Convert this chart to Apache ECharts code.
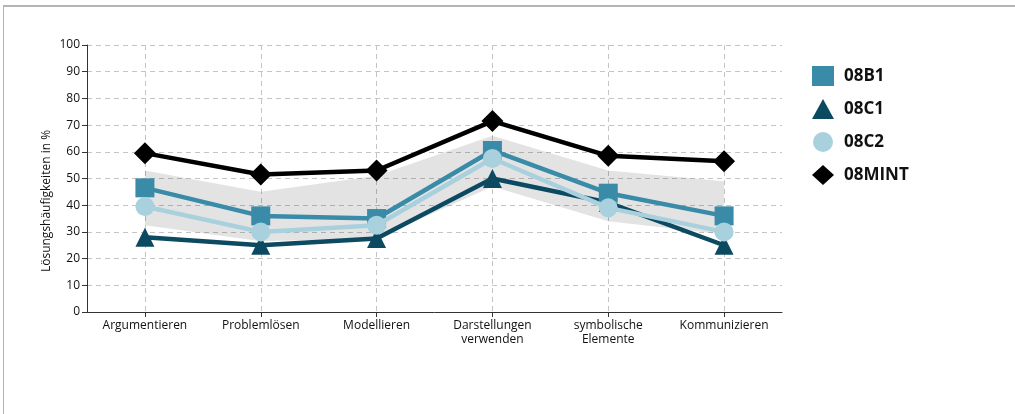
<!DOCTYPE html>
<html>
<head>
<meta charset="utf-8">
<script src="https://cdn.jsdelivr.net/npm/echarts@6/dist/echarts.min.js"></script>
<style>
html,body{margin:0;padding:0;background:#fff;}
#frame{position:absolute;left:3px;top:5px;width:1012px;height:409px;border-top:2px solid #b4b4b4;border-left:1px solid #b4b4b4;box-sizing:border-box;}
#chart{position:absolute;left:0;top:0;width:1015px;height:414px;}
</style>
</head>
<body>
<div id="frame"></div>
<div id="chart"></div>
<script>
const categories = ['Argumentieren','Problemlösen','Modellieren','Darstellungen\nverwenden','symbolische\nElemente','Kommunizieren'];
const yTicks = [0,10,20,30,40,50,60,70,80,90,100];
const yTitle = 'Lösungshäufigkeiten in %';
const seriesNames = ['08B1','08C1','08C2','08MINT'];
const b1 = [46.5, 36, 35, 60.5, 44.5, 36];
const c1 = [28, 25, 27.5, 50, 41, 25];
const c2 = [39.5, 30, 32.5, 57.5, 39, 30];
const mint = [59.5, 51.5, 53, 71.5, 58.5, 56.5];
const bandLow = [32.5, 26.5, 27.5, 47, 34, 29];
const bandHigh = [53, 45, 51, 66, 53, 49];

const colors = {'08B1':'#3a8ba7','08C1':'#0c4a61','08C2':'#a9d0dd','08MINT':'#000000'};
const symbols = {'08B1':'rect','08C1':'triangle','08C2':'circle','08MINT':'diamond'};
const sizes = {'08B1':19,'08C1':19,'08C2':19,'08MINT':22};
const dataMap = {'08B1':b1,'08C1':c1,'08C2':c2,'08MINT':mint};
const drawOrder = ['08C1','08B1','08C2','08MINT'];

const chart = echarts.init(document.getElementById('chart'), null, {renderer:'canvas'});
const font = 'Open Sans, Liberation Sans, sans-serif';

const bandDiff = bandHigh.map((h,i)=>h-bandLow[i]);

const series = [
  {name:'bandBase', type:'line', data:bandLow, stack:'band', symbol:'none', lineStyle:{opacity:0}, silent:true, z:1},
  {name:'band', type:'line', data:bandDiff, stack:'band', symbol:'none', lineStyle:{opacity:0}, areaStyle:{color:'rgba(0,0,0,0.11)', opacity:1}, silent:true, z:1}
];
drawOrder.forEach((n,i)=>{
  series.push({
    name:n, type:'line', data:dataMap[n], symbol:symbols[n], symbolSize:sizes[n],
    lineStyle:{color:colors[n], width:4.5}, itemStyle:{color:colors[n]},
    z:2+i, animation:false
  });
});

chart.setOption({
  animation:false,
  grid:{left:87, right:233, top:45, bottom:102, containLabel:false},
  legend:{
    orient:'vertical', left:807, top:61, itemWidth:22, itemHeight:20, itemGap:13,
    data: seriesNames.map(n=>({name:n, icon:symbols[n], itemStyle:{color:colors[n]}})),
    textStyle:{fontFamily:font, fontSize:17, fontWeight:'bold', color:'#111', padding:[0,0,0,5]},
    selectedMode:false
  },
  graphic:[{
    type:'text', x:47, y:201, rotation:Math.PI/2,
    style:{text:yTitle, fontFamily:font, fontSize:12, fill:'#111', align:'center', verticalAlign:'middle'}
  }],
  xAxis:{
    type:'category', data:categories, boundaryGap:true,
    axisLine:{lineStyle:{color:'#333', width:1}},
    axisTick:{show:true, alignWithLabel:true, length:5, lineStyle:{color:'#333'}},
    axisLabel:{fontFamily:font, fontSize:12, color:'#111', margin:7, lineHeight:14, interval:0},
    splitLine:{show:true, alignWithLabel:true, lineStyle:{color:'#c4c4c4', type:[5,4], width:1}}
  },
  yAxis:{
    type:'value', min:yTicks[0], max:yTicks[yTicks.length-1], interval:10,
    axisLine:{show:true, lineStyle:{color:'#333', width:1}},
    axisTick:{show:true, length:5, lineStyle:{color:'#333'}},
    axisLabel:{fontFamily:font, fontSize:12, color:'#111', margin:7},
    splitLine:{show:true, lineStyle:{color:'#c4c4c4', type:[5,4], width:1}}
  },
  series:series
});
</script>
</body>
</html>
